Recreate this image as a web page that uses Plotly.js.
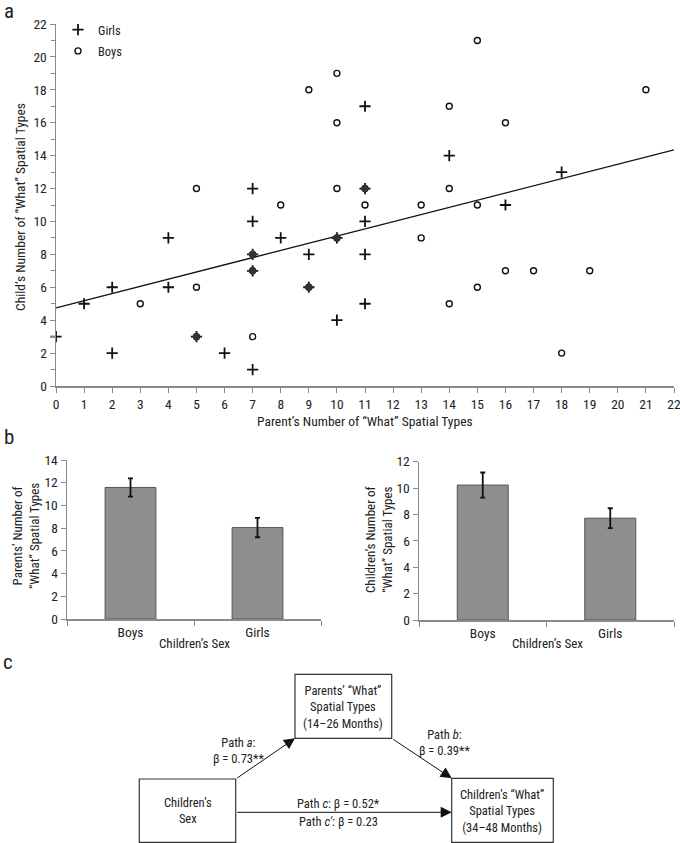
<!DOCTYPE html>
<html>
<head>
<meta charset="utf-8">
<script src="https://cdn.plot.ly/plotly-3.0.1.min.js"></script>
<style>html,body{margin:0;padding:0;background:#fff;}#chart{width:680px;height:843px;}</style>
</head>
<body>
<div id="chart"></div>
<script>
// ---- Panel a: scatter data ----
const girlsX = [0, 1, 2, 2, 4, 4, 5, 6, 7, 7, 7, 7, 7, 8, 9, 9, 10, 10, 11, 11, 11, 11, 11, 14, 16, 18];
const girlsY = [3, 5, 6, 2, 9, 6, 3, 2, 12, 10, 8, 7, 1, 9, 8, 6, 9, 4, 17, 12, 10, 8, 5, 14, 11, 13];
const boysX = [3, 5, 5, 5, 7, 7, 7, 8, 9, 9, 10, 10, 10, 10, 11, 11, 13, 13, 14, 14, 14, 15, 15, 15, 16, 16, 17, 18, 19, 21];
const boysY = [5, 12, 6, 3, 3, 8, 7, 11, 18, 6, 19, 16, 12, 9, 12, 11, 11, 9, 17, 12, 5, 21, 11, 6, 16, 7, 7, 2, 7, 18];
const trendX = [0, 22];
const trendY = [4.75, 14.35];

// ---- Panel b: bar data ----
const sexCats = ["Boys", "Girls"];
const parentMeans = [11.58, 8.05];
const parentErr = [0.81, 0.85];
const childMeans = [10.23, 7.72];
const childErr = [0.95, 0.75];

const W = 680, H = 843;
const fx = p => p / W;
const fy = p => 1 - p / H;
const FONT = "'Liberation Sans Narrow', 'Arial Narrow', 'Roboto Condensed', 'Liberation Sans', sans-serif";
const INK = '#222';
const AX = '#8a8a8a';

// overlapping points (both a girl and a boy at the same place)
const both = {x: [], y: []};
girlsX.forEach((gx, i) => {
  for (let j = 0; j < boysX.length; j++) {
    if (boysX[j] === gx && boysY[j] === girlsY[i]) { both.x.push(gx); both.y.push(girlsY[i]); break; }
  }
});

const traces = [
  {x: trendX, y: trendY, mode: 'lines', line: {color: '#111', width: 1.3}, showlegend: false, hoverinfo: 'skip', xaxis: 'x', yaxis: 'y'},
  {x: girlsX, y: girlsY, name: 'Girls', legendgroup: 'g', mode: 'markers', cliponaxis: false,
   marker: {symbol: 'cross-thin-open', size: 8, line: {width: 1.8, color: '#111'}, color: '#111'}, xaxis: 'x', yaxis: 'y'},
  {x: boysX, y: boysY, name: 'Boys', legendgroup: 'b', mode: 'markers', cliponaxis: false,
   marker: {symbol: 'circle-open', size: 6, line: {width: 1.4, color: '#111'}, color: '#111'}, xaxis: 'x', yaxis: 'y'},
  {x: both.x, y: both.y, mode: 'markers', showlegend: false, cliponaxis: false,
   marker: {symbol: 'diamond', size: 7, color: '#333'}, xaxis: 'x', yaxis: 'y'},
  {x: sexCats, y: parentMeans, type: 'bar', width: 0.4, showlegend: false,
   marker: {color: '#8e8e8e', line: {color: '#555', width: 1}},
   error_y: {type: 'data', array: parentErr, visible: true, color: '#111', thickness: 1.8, width: 2.5},
   xaxis: 'x2', yaxis: 'y2'},
  {x: sexCats, y: childMeans, type: 'bar', width: 0.4, showlegend: false,
   marker: {color: '#8e8e8e', line: {color: '#555', width: 1}},
   error_y: {type: 'data', array: childErr, visible: true, color: '#111', thickness: 1.8, width: 2.5},
   xaxis: 'x3', yaxis: 'y3'}
];

const baseAxis = {
  showgrid: false, zeroline: false, showline: true, linecolor: AX, linewidth: 1.5,
  ticks: 'outside', ticklen: 5, tickcolor: AX, tickwidth: 1, ticklabeloverflow: 'allow',
  tickfont: {family: FONT, size: 13.5, color: INK}, fixedrange: true
};

function ann(text, x, y, opts) {
  return Object.assign({text: text, x: fx(x), y: fy(y), xref: 'paper', yref: 'paper',
    showarrow: false, xanchor: 'center', yanchor: 'middle',
    font: {family: FONT, size: 13, color: INK}}, opts || {});
}
function arrow(x0, y0, x1, y1) {
  return {x: fx(x1), y: fy(y1), xref: 'paper', yref: 'paper', ax: x0 - x1, ay: y0 - y1,
    axref: 'pixel', ayref: 'pixel', text: '', showarrow: true, arrowhead: 2, arrowsize: 2.2,
    arrowwidth: 1, arrowcolor: '#111', standoff: 0, startstandoff: 0};
}
function rect(x0, y0, x1, y1) {
  return {type: 'rect', xref: 'paper', yref: 'paper', x0: fx(x0), x1: fx(x1), y0: fy(y1), y1: fy(y0),
    line: {color: '#333', width: 1.2}, fillcolor: 'rgba(0,0,0,0)'};
}

const D = 12.5; // diagram font size
const annotations = [
  ann('a', 9, 11, {font: {family: FONT, size: 21, color: INK}}),
  ann('b', 9, 437, {font: {family: FONT, size: 21, color: INK}}),
  ann('c', 8, 662, {font: {family: FONT, size: 21, color: INK}}),
  ann('Child’s Number of “What” Spatial Types', 20, 207, {textangle: -90, font: {family: FONT, size: 13.5, color: INK}}),
  ann('Parent’s Number of “What” Spatial Types', 365, 421, {font: {family: FONT, size: 13.5, color: INK}}),
  ann('Parents’ Number of<br>“What” Spatial Types', 26, 536, {textangle: -90}),
  ann('Children’s Number of<br>“What” Spatial Types', 379, 540, {textangle: -90}),
  ann('Children’s Sex', 194, 643),
  ann('Children’s Sex', 547, 643),
  // diagram
  ann('Parents’ “What”<br>Spatial Types<br>(14–26 Months)', 343.3, 707, {font: {family: FONT, size: D, color: INK}}),
  ann('Children’s<br>Sex', 187.7, 810.5, {font: {family: FONT, size: D, color: INK}}),
  ann('Children’s “What”<br>Spatial Types<br>(34–48 Months)', 502.3, 810.7, {font: {family: FONT, size: D, color: INK}}),
  ann('Path <i>a</i>:<br>β = 0.73**', 239, 750.3, {font: {family: FONT, size: D, color: INK}}),
  ann('Path <i>b</i>:<br>β = 0.39**', 444, 742, {font: {family: FONT, size: D, color: INK}}),
  ann('Path <i>c</i>: β = 0.52*', 338.3, 803.3, {font: {family: FONT, size: D, color: INK}}),
  ann('Path <i>c′</i>: β = 0.23', 338.3, 821.7, {font: {family: FONT, size: D, color: INK}}),
  arrow(235.7, 779, 295, 738.3),
  arrow(391.7, 738.3, 451.7, 778.3),
  arrow(235.7, 812.3, 451.7, 812.3)
];

const shapes = [
  rect(295, 674.3, 391.7, 738.3),
  rect(139.3, 779, 235.7, 842.3),
  rect(451.7, 778.3, 553.3, 842.3)
];

const layout = {
  width: W, height: H,
  margin: {l: 0, r: 0, t: 0, b: 0, pad: 0},
  paper_bgcolor: '#fff', plot_bgcolor: '#fff',
  font: {family: FONT, color: INK},
  showlegend: true,
  legend: {x: fx(58), y: fy(15), xanchor: 'left', yanchor: 'top', bgcolor: 'rgba(0,0,0,0)',
    font: {family: FONT, size: 12.5, color: INK}, itemwidth: 30, tracegroupgap: 2},
  xaxis: Object.assign({}, baseAxis, {domain: [fx(56), fx(674)], range: [-0.0001, 22.0001], dtick: 1, tick0: 0, anchor: 'y'}),
  yaxis: Object.assign({}, baseAxis, {domain: [fy(386), fy(24)], range: [0, 22], dtick: 2, tick0: 0, anchor: 'x',
    minor: {dtick: 1, ticks: 'outside', ticklen: 4, tickcolor: AX, showgrid: false}}),
  xaxis2: Object.assign({}, baseAxis, {domain: [fx(67), fx(321)], type: 'category', tickson: 'boundaries', anchor: 'y2'}),
  yaxis2: Object.assign({}, baseAxis, {domain: [fy(619), fy(460)], range: [0, 14], dtick: 2, anchor: 'x2'}),
  xaxis3: Object.assign({}, baseAxis, {domain: [fx(419), fx(674)], type: 'category', tickson: 'boundaries', anchor: 'y3'}),
  yaxis3: Object.assign({}, baseAxis, {domain: [fy(620), fy(461.7)], range: [0, 12], dtick: 2, anchor: 'x3'}),
  annotations: annotations,
  shapes: shapes
};

Plotly.newPlot('chart', traces, layout, {staticPlot: true, displayModeBar: false});
</script>
</body>
</html>
